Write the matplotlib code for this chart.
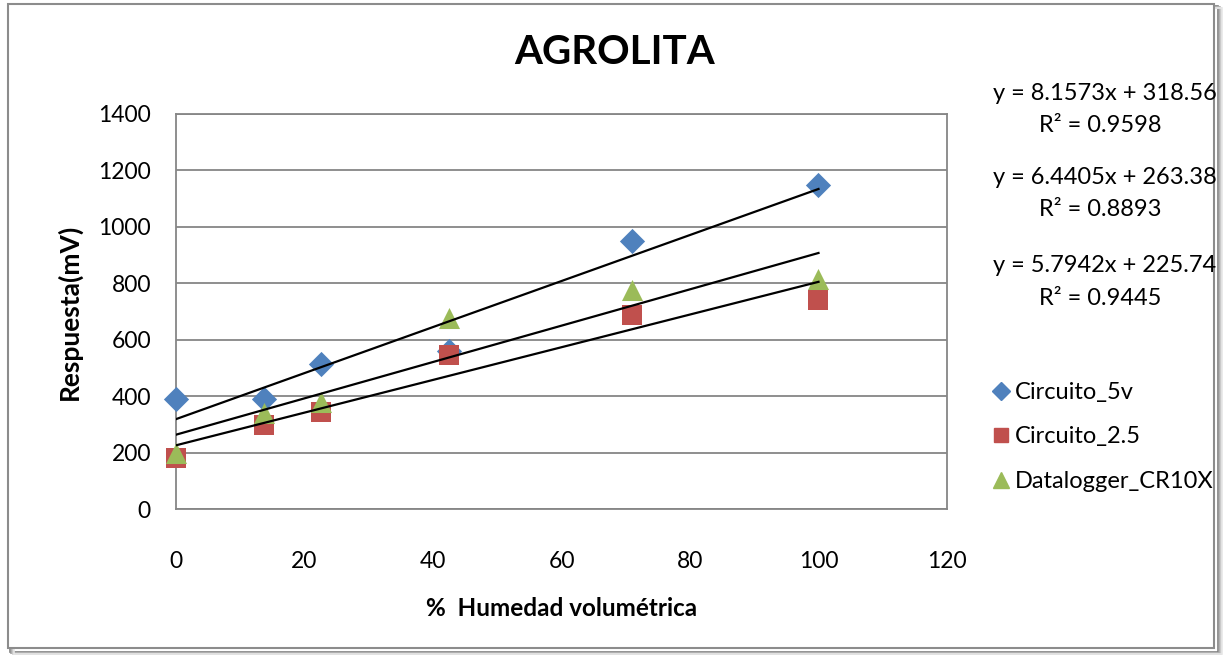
# AGROLITA calibration chart

import numpy as np
import matplotlib.pyplot as plt
from matplotlib.patches import Rectangle
from matplotlib.lines import Line2D

plt.rcParams['font.family'] = ['Lato', 'DejaVu Sans']

# data
humedad = [0, 13.7, 22.6, 42.5, 71, 100]
circuito_5v = [390, 390, 514, 560, 950, 1148]
circuito_25 = [181, 298, 344, 546, 688, 741]
datalogger = [199, 340, 380, 677, 776, 815]

series_names = ['Circuito_5v', 'Circuito_2.5', 'Datalogger_CR10X']
colors = ['#4F81BD', '#C0504D', '#9BBB59']
markers = ['D', 's', '^']

# trendlines (slope, intercept, r2) as printed on the chart
trend_5v = (8.1573, 318.56, 0.9598)
trend_dl = (6.4405, 263.38, 0.8893)
trend_25 = (5.7942, 225.74, 0.9445)

x_ticks = [0, 20, 40, 60, 80, 100, 120]
y_ticks = [0, 200, 400, 600, 800, 1000, 1200, 1400]

W, H = 1225, 656
fig = plt.figure(figsize=(W / 100, H / 100), dpi=100)

# chart frame with a soft shadow
for i, g in enumerate([0.5, 0.6, 0.7, 0.8, 0.9]):
    fig.patches.append(Rectangle(((10 + i) / W, (4 - i * 0.6) / H), 1208 / W, 646 / H,
                                 transform=fig.transFigure, fill=False,
                                 edgecolor=str(g), lw=1.2, zorder=0))
fig.patches.append(Rectangle((8 / W, 8 / H), 1206 / W, 644 / H, transform=fig.transFigure,
                             facecolor='white', edgecolor='#8C8C8C', lw=1.5, zorder=1))

ax = fig.add_axes([176 / W, 1 - 509 / H, (947 - 176) / W, (509 - 114) / H])
ax.set_zorder(2)
ax.patch.set_alpha(0)

ax.set_xlim(0, 120)
ax.set_ylim(0, 1400)
ax.set_xticks(x_ticks)
ax.set_yticks(y_ticks)
ax.tick_params(length=0, labelsize=16.5)
ax.tick_params(axis='x', pad=30)
ax.tick_params(axis='y', pad=18)
ax.grid(axis='y', color='#868686', lw=1.3)
ax.set_axisbelow(True)
for s in ax.spines.values():
    s.set_color('#868686')
    s.set_linewidth(1.3)

sizes = [165, 210, 230]
for ys, c, m, sz in zip([circuito_5v, circuito_25, datalogger], colors, markers, sizes):
    ax.scatter(humedad, ys, marker=m, color=c, s=sz, linewidths=0, zorder=3, clip_on=False)

xs = np.array([humedad[0], humedad[-1]])
for slope, icpt, r2 in [trend_5v, trend_dl, trend_25]:
    ax.plot(xs, slope * xs + icpt, color='black', lw=1.6, zorder=4)

ax.set_xlabel('%  Humedad volumétrica', fontsize=17.5, fontweight='bold', labelpad=18)
ax.set_ylabel('Respuesta(mV)', fontsize=19, fontweight='bold', labelpad=12)

fig.text(615 / W, 1 - 52 / H, 'AGROLITA', fontsize=29, fontweight='bold',
         ha='center', va='center')

# trendline equations
eq_y = [93, 177, 266]
for (slope, icpt, r2), yy in zip([trend_5v, trend_dl, trend_25], eq_y):
    fig.text(1105 / W, 1 - yy / H, 'y = {}x + {}'.format(slope, icpt), fontsize=17,
             ha='center', va='center')
    fig.text(1100 / W, 1 - (yy + 32) / H, 'R² = {}'.format(r2), fontsize=17,
             ha='center', va='center')

handles = [Line2D([], [], marker=m, color=c, ls='none', markersize=ms)
           for m, c, ms in zip(markers, colors, [9, 10, 11])]
fig.legend(handles, series_names, loc='center left', bbox_to_anchor=(975 / W, 1 - 437 / H),
           frameon=False, fontsize=17, handletextpad=0.0, labelspacing=1.0,
           handlelength=1.2, borderpad=0)

fig.savefig('out.png', dpi=100)
